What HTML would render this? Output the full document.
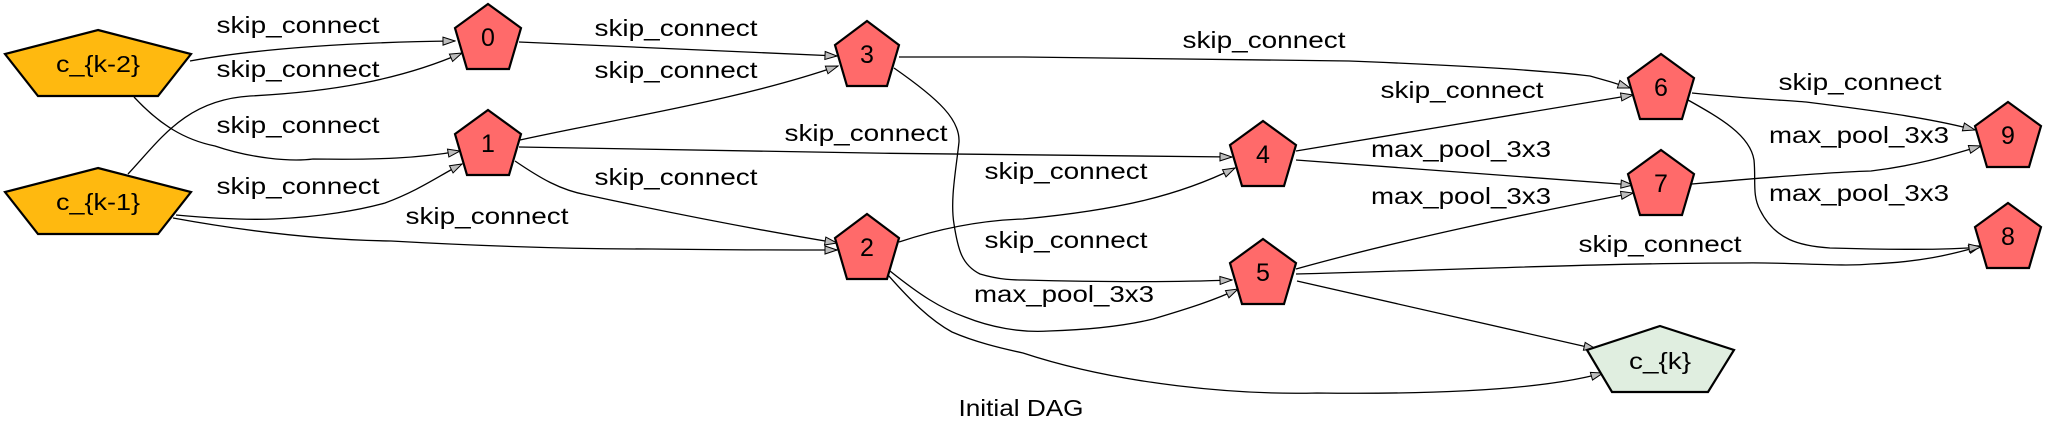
<!DOCTYPE html>
<html><head><meta charset="utf-8"><style>
html,body{margin:0;padding:0;background:#fff;}
svg{display:block;}
text{font-family:"Liberation Sans",sans-serif;fill:#000;}
</style></head><body>
<svg width="2046" height="437" viewBox="0 0 2046 437" xmlns="http://www.w3.org/2000/svg">
<defs>
<marker id="a" markerUnits="userSpaceOnUse" markerWidth="14" markerHeight="10" refX="13" refY="5" orient="auto">
<path d="M1,1 L13,5 L1,9 Z" fill="#bdbdbd" stroke="#000" stroke-width="1"/>
</marker>
</defs>
<g fill="none" stroke="#000" stroke-width="1.3" marker-end="url(#a)">
<path d="M190,61 C260,48 360,42 455,41"/>
<path d="M128,174 C160,140 185,100 250,96 C330,92 400,80 462,53"/>
<path d="M134,97 C160,125 185,140 215,146 C250,158 290,162 313,159 C380,160 420,158 460,151"/>
<path d="M176,215 C220,219 250,220 274,219 C320,217 360,210 385,203 C420,190 440,175 462,164"/>
<path d="M173,218 C250,232 320,240 391,241 C480,246 560,249 652,249 C720,250 790,250 837,250"/>
<path d="M519,42 L837,56"/>
<path d="M520,140 C620,118 740,100 838,66"/>
<path d="M519,147 C750,152 1000,155 1232,157"/>
<path d="M515,161 C540,178 560,190 587,195 C680,215 770,232 837,243"/>
<path d="M899,242 C950,225 990,220 1023,219 C1120,210 1180,195 1235,168"/>
<path d="M894,68 C940,100 960,120 959,142 C956,170 950,200 954,224 C958,250 962,265 980,274 C1000,280 1015,280 1023,280 C1100,282 1180,282 1232,280"/>
<path d="M890,271 C920,295 940,308 965,317 C990,327 1020,333 1049,331 C1080,330 1120,327 1153,319 C1190,308 1215,300 1238,289"/>
<path d="M888,275 C910,300 930,320 952,332 C975,342 1000,348 1023,353 C1120,385 1240,395 1317,393 C1480,395 1560,385 1603,373"/>
<path d="M899,57 C960,57 1000,57 1023,57 C1150,58 1260,60 1349,61 C1450,65 1540,70 1590,76 C1605,80 1618,84 1630,88"/>
<path d="M1296,151 L1633,95"/>
<path d="M1296,160 L1633,185"/>
<path d="M1296,269 C1400,240 1520,215 1633,193"/>
<path d="M1296,274 C1450,270 1600,263 1741,263 C1790,262 1840,267 1871,264 C1920,262 1950,255 1981,246"/>
<path d="M1297,281 L1596,349"/>
<path d="M1692,93 C1740,98 1780,100 1806,102 C1870,110 1930,118 1975,130"/>
<path d="M1692,184 C1760,178 1830,172 1871,171 C1920,165 1950,155 1981,146"/>
<path d="M1688,100 C1720,118 1750,135 1754,160 C1756,180 1752,195 1760,210 C1775,240 1800,246 1830,248 C1900,250 1950,250 1981,247"/>
</g>
<g stroke="#000" stroke-width="2.2" stroke-linejoin="miter">
<polygon fill="#ffb90f" points="98,30 191,54 158,96 38,96 5,54"/>
<polygon fill="#ffb90f" points="98,168 191,192 158,234 38,234 5,192"/>
<polygon fill="#ff6a6a" points="488,4 521,28 509,69 467,69 455,28"/>
<polygon fill="#ff6a6a" points="488,110 521,134 509,175 467,175 455,134"/>
<polygon fill="#ff6a6a" points="867,21 899,45 887,86 847,86 835,45"/>
<polygon fill="#ff6a6a" points="867,214 899,238 887,279 847,279 835,238"/>
<polygon fill="#ff6a6a" points="1263,121 1296,145 1284,186 1242,186 1230,145"/>
<polygon fill="#ff6a6a" points="1263,239 1296,263 1284,304 1242,304 1230,263"/>
<polygon fill="#ff6a6a" points="1661,54 1694,78 1682,119 1640,119 1628,78"/>
<polygon fill="#ff6a6a" points="1661,150 1694,174 1682,215 1640,215 1628,174"/>
<polygon fill="#ff6a6a" points="2008,102 2041,126 2029,167 1987,167 1975,126"/>
<polygon fill="#ff6a6a" points="2008,203 2041,227 2029,268 1987,268 1975,227"/>
<polygon fill="#e0eee0" points="1660,326 1734,350 1708,392 1612,392 1587,350"/>
</g>
<g font-size="23" text-anchor="middle">
<text x="98" y="72" textLength="84" lengthAdjust="spacingAndGlyphs">c_{k-2}</text>
<text x="98" y="210" textLength="84" lengthAdjust="spacingAndGlyphs">c_{k-1}</text>
<text x="1660" y="369" textLength="62" lengthAdjust="spacingAndGlyphs">c_{k}</text>
</g>
<g font-size="25" text-anchor="middle">
<text x="488" y="46">0</text>
<text x="488" y="152">1</text>
<text x="867" y="63">3</text>
<text x="867" y="256">2</text>
<text x="1263" y="163">4</text>
<text x="1263" y="281">5</text>
<text x="1661" y="96">6</text>
<text x="1661" y="192">7</text>
<text x="2008" y="144">9</text>
<text x="2008" y="245">8</text>
</g>
<g font-size="23" text-anchor="middle" lengthAdjust="spacingAndGlyphs">
<text x="298" y="33" textLength="163" lengthAdjust="spacingAndGlyphs">skip_connect</text>
<text x="298" y="77" textLength="163" lengthAdjust="spacingAndGlyphs">skip_connect</text>
<text x="298" y="133" textLength="163" lengthAdjust="spacingAndGlyphs">skip_connect</text>
<text x="298" y="194" textLength="163" lengthAdjust="spacingAndGlyphs">skip_connect</text>
<text x="487" y="224" textLength="163" lengthAdjust="spacingAndGlyphs">skip_connect</text>
<text x="676" y="36" textLength="163" lengthAdjust="spacingAndGlyphs">skip_connect</text>
<text x="676" y="78" textLength="163" lengthAdjust="spacingAndGlyphs">skip_connect</text>
<text x="676" y="185" textLength="163" lengthAdjust="spacingAndGlyphs">skip_connect</text>
<text x="866" y="141" textLength="163" lengthAdjust="spacingAndGlyphs">skip_connect</text>
<text x="1066" y="179" textLength="163" lengthAdjust="spacingAndGlyphs">skip_connect</text>
<text x="1066" y="248" textLength="163" lengthAdjust="spacingAndGlyphs">skip_connect</text>
<text x="1064" y="302" textLength="180" lengthAdjust="spacingAndGlyphs">max_pool_3x3</text>
<text x="1264" y="48" textLength="163" lengthAdjust="spacingAndGlyphs">skip_connect</text>
<text x="1462" y="98" textLength="163" lengthAdjust="spacingAndGlyphs">skip_connect</text>
<text x="1461" y="157" textLength="180" lengthAdjust="spacingAndGlyphs">max_pool_3x3</text>
<text x="1461" y="204" textLength="180" lengthAdjust="spacingAndGlyphs">max_pool_3x3</text>
<text x="1660" y="252" textLength="163" lengthAdjust="spacingAndGlyphs">skip_connect</text>
<text x="1860" y="90" textLength="163" lengthAdjust="spacingAndGlyphs">skip_connect</text>
<text x="1859" y="143" textLength="180" lengthAdjust="spacingAndGlyphs">max_pool_3x3</text>
<text x="1859" y="201" textLength="180" lengthAdjust="spacingAndGlyphs">max_pool_3x3</text>
<text x="1021" y="416" textLength="125" lengthAdjust="spacingAndGlyphs">Initial DAG</text>
</g>
</svg>
</body></html>
